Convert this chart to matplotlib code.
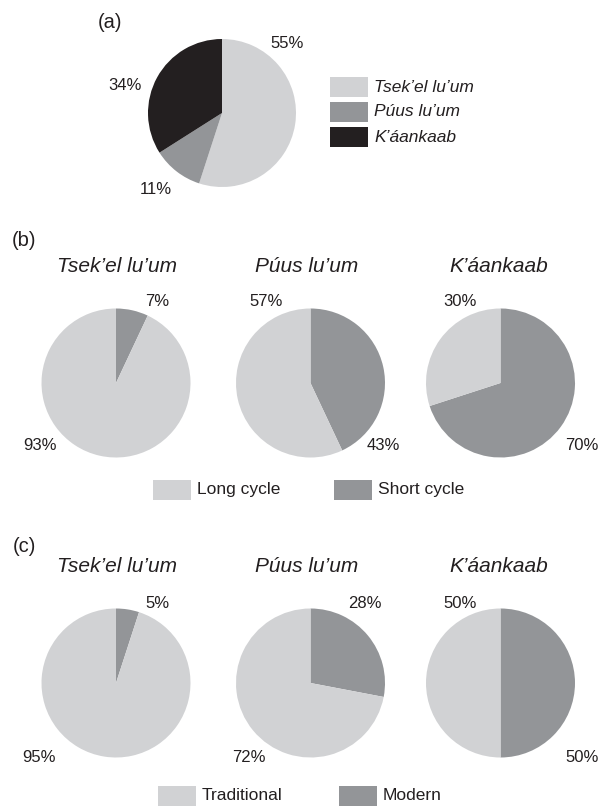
import matplotlib
matplotlib.use("Agg")
import matplotlib.pyplot as plt
from matplotlib.patches import Rectangle

plt.rcParams["font.family"] = ["Liberation Sans", "DejaVu Sans"]

W, H = 598, 806

# data
groups = ["Tsek’el lu’um", "Púus lu’um", "K’áankaab"]
overall_share = [55, 11, 34]
cycle_labels = ["Long cycle", "Short cycle"]
short_cycle = [7, 43, 70]
long_cycle = [93, 57, 30]
tech_labels = ["Traditional", "Modern"]
modern = [5, 28, 50]
traditional = [95, 72, 50]

LIGHT = "#d1d2d4"
MID = "#939598"
DARK = "#231f20"
TXT = "#231f20"


def fx(x):
    return x / W


def fy(y):
    return 1 - y / H


def pie_axes(fig, cx, cy, r):
    ax = fig.add_axes([fx(cx - r), fy(cy + r), 2 * r / W, 2 * r / H])
    return ax


def draw_pie(ax, values, colors):
    ax.pie(values, colors=colors, startangle=90, counterclock=False,
           radius=1, wedgeprops=dict(linewidth=0))
    ax.set_xlim(-1, 1)
    ax.set_ylim(-1, 1)
    ax.set_aspect("auto")
    ax.axis("off")


def ftext(fig, x, y, s, size=12, **kw):
    fig.text(fx(x), fy(y), s, fontsize=size, color=TXT, ha="center", va="center", **kw)


def legend_row(fig, x, y, color, label, italic=False, size=12.5):
    fig.add_artist(Rectangle((fx(x), fy(y + 10)), 38 / W, 20 / H, transform=fig.transFigure,
                             facecolor=color, edgecolor="none"))
    fig.text(fx(x + 44), fy(y), label, fontsize=size, color=TXT, ha="left", va="center",
             style="italic" if italic else "normal")


fig = plt.figure(figsize=(W / 100, H / 100), dpi=100)

# (a)
ftext(fig, 110, 22, "(a)", size=14.5)
ax = pie_axes(fig, 222, 113, 74)
draw_pie(ax, overall_share, [LIGHT, MID, DARK])
a_pos = [(287, 43), (156, 190), (125, 85)]
for v, (x, y) in zip(overall_share, a_pos):
    ftext(fig, x, y, f"{v}%")
for i, (g, c) in enumerate(zip(groups, [LIGHT, MID, DARK])):
    legend_row(fig, 330, 87 + 25 * i, c, g, italic=True)

# (b) and (c)
centers_x = [116, 310.5, 500.5]
title_x = [117, 307, 499]
b_top = [(157, 302), (266, 302), (460, 302)]
b_bot = [(40, 446), (383, 446), (582, 446)]
c_top = [(157, 604), (365, 604), (460, 604)]
c_bot = [(39, 758), (249, 758), (582, 758)]

panels = [
    ("(b)", 241, 266, 383, short_cycle, long_cycle, b_top, b_bot),
    ("(c)", 547, 566, 683, modern, traditional, c_top, c_bot),
]
for tag, tag_y, title_y, cy, first, second, top_pos, bot_pos in panels:
    ftext(fig, 24, tag_y, tag, size=14.5)
    for i in range(3):
        ftext(fig, title_x[i], title_y, groups[i], size=15, style="italic")
        ax = pie_axes(fig, centers_x[i], cy, 74.5)
        draw_pie(ax, [first[i], second[i]], [MID, LIGHT])
    # labels: b -> top shows short for first two, long for the third
    if tag == "(b)":
        top_vals = [short_cycle[0], long_cycle[1], long_cycle[2]]
        bot_vals = [long_cycle[0], short_cycle[1], short_cycle[2]]
    else:
        top_vals = [modern[0], modern[1], traditional[2]]
        bot_vals = [traditional[0], traditional[1], modern[2]]
    for v, (x, y) in zip(top_vals, top_pos):
        ftext(fig, x, y, f"{v}%")
    for v, (x, y) in zip(bot_vals, bot_pos):
        ftext(fig, x, y, f"{v}%")

legend_row(fig, 153, 490, LIGHT, cycle_labels[0])
legend_row(fig, 334, 490, MID, cycle_labels[1])
legend_row(fig, 158, 796, LIGHT, tech_labels[0])
legend_row(fig, 339, 796, MID, tech_labels[1])

fig.savefig("out.png", dpi=100)
